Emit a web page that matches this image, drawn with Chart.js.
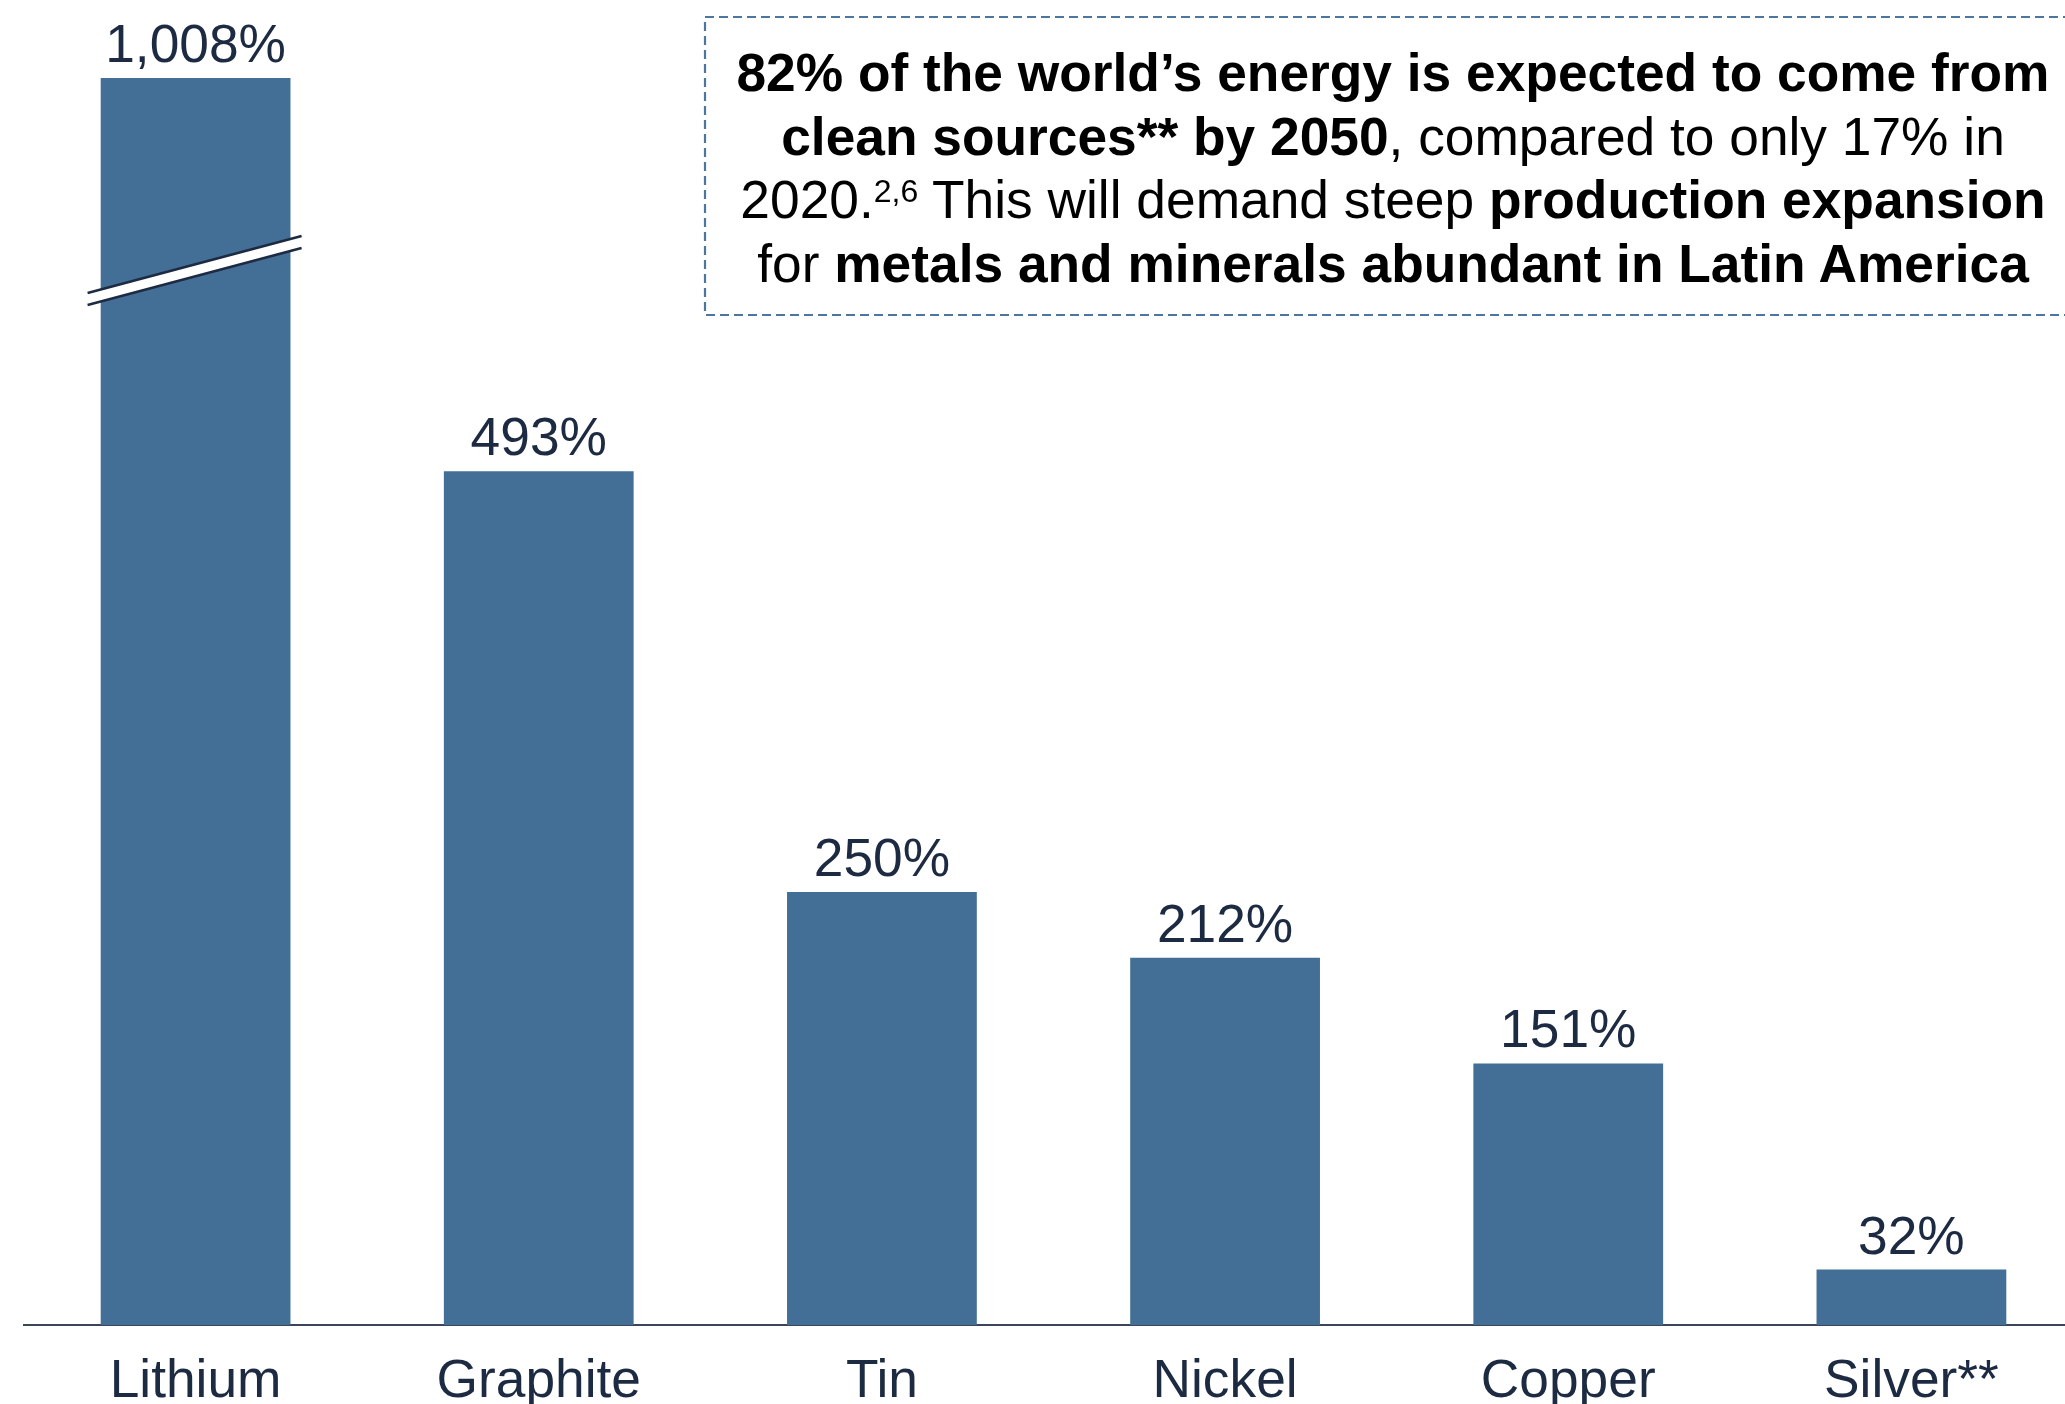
<!DOCTYPE html>
<html>
<head>
<meta charset="utf-8">
<script src="https://cdn.jsdelivr.net/npm/chart.js@4/dist/chart.umd.min.js"></script>
<style>
    html, body { margin: 0; padding: 0; background: #fff; overflow: hidden; }
    #wrap { position: relative; width: 2065px; height: 1404px; overflow: hidden; }
    #chart { position: absolute; left: 0; top: 0; }
    #note {
        position: absolute;
        left: 713px;
        top: 41px;
        width: 1360px;
        text-align: center;
        white-space: nowrap;
        font-family: "Liberation Sans", Arial, sans-serif;
        font-size: 53.3px;
        line-height: 63.7px;
        color: #000;
    }
    #note b { font-weight: bold; }
    #note .sup { font-size: 32px; line-height: 0; vertical-align: 16px; }
</style>
</head>
<body>
<div id="wrap">
    <canvas id="chart" width="2100" height="1404"></canvas>
    <div id="note">
        <b>82% of the world’s energy is expected to come from</b><br>
        <b>clean sources** by 2050</b>, compared to only 17% in<br>
        2020.<span class="sup">2,6</span> This will demand steep <b>production expansion</b><br>
        for <b>metals and minerals abundant in Latin America</b>
    </div>
</div>
<script>
/* === DATA === */
const minerals = ["Lithium", "Graphite", "Tin", "Nickel", "Copper", "Silver**"];
const demandGrowth = [1008, 493, 250, 212, 151, 32];
const valueLabels = ["1,008%", "493%", "250%", "212%", "151%", "32%"];

// Lithium is too tall for the axis, its bar is clipped and marked with a break
const Y_MAX = 720;
const BREAK_AT = 609;

const BAR_COLOR = "#436f97";
const TEXT_COLOR = "#1c2a42";
const FONT = '"Liberation Sans", Arial, sans-serif';
const FONT_SIZE = 53.3;

/* === PLUGINS === */
const noteBox = {
    id: "noteBox",
    beforeDraw(chart) {
        const ctx = chart.ctx;
        ctx.save();
        ctx.strokeStyle = "#4a76a0";
        ctx.lineWidth = 2.2;
        ctx.setLineDash([9, 5]);
        ctx.beginPath();
        ctx.moveTo(2100, 17);
        ctx.lineTo(705, 17);
        ctx.lineTo(705, 315);
        ctx.lineTo(2100, 315);
        ctx.stroke();
        ctx.restore();
    }
};

const valueLabelsPlugin = {
    id: "valueLabels",
    afterDatasetsDraw(chart) {
        const ctx = chart.ctx;
        const meta = chart.getDatasetMeta(0);
        ctx.save();
        ctx.font = FONT_SIZE + "px " + FONT;
        ctx.fillStyle = TEXT_COLOR;
        ctx.textAlign = "center";
        ctx.textBaseline = "alphabetic";
        meta.data.forEach((bar, i) => {
            const top = Math.max(bar.y, chart.chartArea.top);
            ctx.fillText(valueLabels[i], bar.x, top - 16);
        });
        ctx.restore();
    }
};

const axisBreak = {
    id: "axisBreak",
    afterDatasetsDraw(chart) {
        const ctx = chart.ctx;
        const bar = chart.getDatasetMeta(0).data[0];
        const cy = chart.scales.y.getPixelForValue(BREAK_AT);
        const x0 = bar.x - 108, x1 = bar.x + 106;
        const slope = -57 / 214;
        const yAt = x => cy + (x - bar.x) * slope;
        const half = 6;

        ctx.save();
        ctx.fillStyle = "#fff";
        ctx.beginPath();
        ctx.moveTo(x0, yAt(x0) - half);
        ctx.lineTo(x1, yAt(x1) - half);
        ctx.lineTo(x1, yAt(x1) + half);
        ctx.lineTo(x0, yAt(x0) + half);
        ctx.closePath();
        ctx.fill();

        ctx.strokeStyle = "#1c2a42";
        ctx.lineWidth = 2.5;
        ctx.beginPath();
        ctx.moveTo(x0, yAt(x0) - half);
        ctx.lineTo(x1, yAt(x1) - half);
        ctx.moveTo(x0, yAt(x0) + half);
        ctx.lineTo(x1, yAt(x1) + half);
        ctx.stroke();
        ctx.restore();
    }
};

/* === CHART === */
new Chart(document.getElementById("chart"), {
    type: "bar",
    data: {
        labels: minerals,
        datasets: [{
            data: demandGrowth,
            backgroundColor: BAR_COLOR,
            borderWidth: 0,
            categoryPercentage: 1,
            barPercentage: 0.553
        }]
    },
    options: {
        responsive: false,
        animation: false,
        devicePixelRatio: 1,
        layout: { padding: { left: 24, right: 17, top: 78, bottom: 0 } },
        plugins: {
            legend: { display: false },
            tooltip: { enabled: false },
            title: { display: false }
        },
        scales: {
            x: {
                grid: { display: false, drawTicks: false },
                border: { display: true, color: "#3a4658", width: 2 },
                ticks: {
                    color: TEXT_COLOR,
                    padding: 31,
                    maxRotation: 0,
                    autoSkip: false,
                    font: { family: FONT, size: FONT_SIZE, lineHeight: 1 }
                },
                // keep the axis line where the reference has it
                afterFit(scale) { scale.height = 79; }
            },
            y: {
                display: false,
                min: 0,
                max: Y_MAX
            }
        }
    },
    plugins: [noteBox, valueLabelsPlugin, axisBreak]
});
</script>
</body>
</html>
